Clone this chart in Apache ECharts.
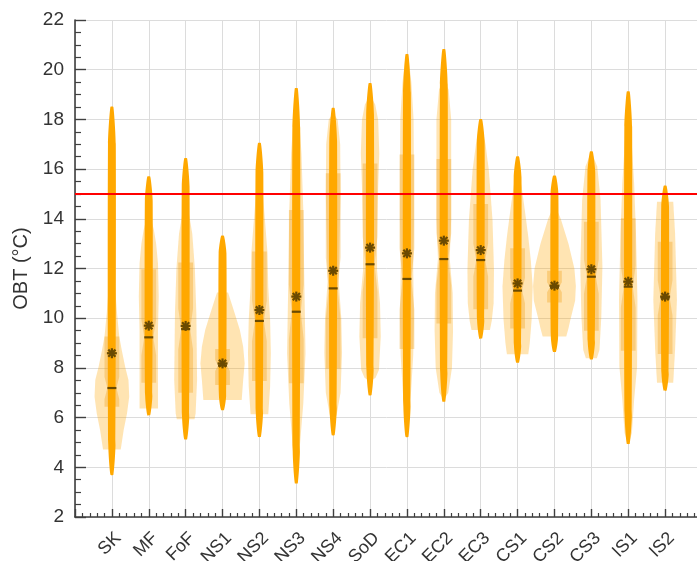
<!DOCTYPE html>
<html>
<head>
<meta charset="utf-8">
<script src="https://cdn.jsdelivr.net/npm/echarts@6/dist/echarts.min.js"></script>
<style>
html,body{margin:0;padding:0;background:#fff;}
#chart{width:697px;height:561px;}
</style>
</head>
<body>
<div id="chart"></div>
<script>
// ---- data ----
const categories = ['SK','MF','FoF','NS1','NS2','NS3','NS4','SoD','EC1','EC2','EC3','CS1','CS2','CS3','IS1','IS2'];
const means   = [8.59, 9.70, 9.69, 8.18, 10.33, 10.87, 11.91, 12.84, 12.61, 13.12, 12.74, 11.40, 11.31, 11.97, 11.47, 10.87];
const medians = [7.19, 9.23, 9.56, 8.10, 9.89, 10.26, 11.20, 12.17, 11.58, 12.38, 12.34, 11.11, 11.25, 11.67, 11.27, 10.82];
const q1      = [6.44, 7.40, 7.00, 7.31, 7.47, 7.38, 7.98, 9.19, 8.76, 9.79, 10.36, 9.59, 10.63, 9.50, 8.69, 8.56];
const q3      = [9.26, 11.97, 12.24, 8.76, 12.68, 14.35, 15.83, 16.23, 16.59, 16.41, 14.60, 12.81, 11.91, 13.88, 14.02, 13.08];
const mins    = [3.70, 6.10, 5.13, 6.31, 5.23, 3.36, 5.30, 6.91, 5.23, 6.65, 9.19, 8.22, 8.65, 8.35, 4.95, 7.09];
const maxs    = [18.50, 15.70, 16.43, 13.31, 17.04, 19.25, 18.45, 19.45, 20.62, 20.82, 18.00, 16.50, 15.73, 16.70, 19.12, 15.32];
const threshold = 15;
// violin density profiles: [value, half-width in category units]
const violinProfiles = [
  [[4.72,0.24],[5.5,0.32],[6.17,0.41],[6.84,0.47],[7.51,0.45],[8.05,0.36],[8.7,0.27],[9.26,0.2],[10.2,0.14],[11.2,0.09],[12.5,0.04],[13.5,0]],
  [[6.37,0.25],[8.18,0.25],[9.53,0.25],[10.87,0.27],[12.2,0.25],[13.0,0.2],[13.55,0.14],[13.95,0.07],[14.15,0]],
  [[5.93,0.24],[6.17,0.27],[7.51,0.31],[10.2,0.29],[12.0,0.25],[13.4,0.18],[14.2,0.09],[14.76,0]],
  [[6.71,0.52],[7.51,0.56],[8.18,0.6],[8.85,0.56],[9.53,0.47],[10.2,0.33],[11.03,0.15]],
  [[6.13,0.24],[7.25,0.29],[8.59,0.31],[9.93,0.29],[11.27,0.24],[12.61,0.22],[13.95,0.15],[15.3,0.08],[16.5,0]],
  [[3.62,0.02],[4.56,0.08],[6.57,0.19],[8.59,0.25],[11.27,0.22],[14.35,0.19],[16.64,0.14],[18.65,0.05],[19.1,0]],
  [[5.6,0],[6.17,0.1],[7.0,0.2],[8.6,0.24],[10.0,0.22],[11.5,0.15],[13.0,0.17],[15.0,0.2],[17.0,0.19],[18.0,0.12],[18.25,0]],
  [[7.45,0],[7.6,0.15],[7.92,0.24],[9.26,0.29],[10.6,0.27],[11.94,0.19],[13.28,0.19],[15.3,0.22],[16.64,0.25],[17.98,0.22],[18.6,0.14],[18.98,0]],
  [[5.23,0],[6.0,0.06],[7.0,0.11],[8.5,0.17],[10.0,0.19],[12.0,0.17],[14.0,0.19],[16.0,0.19],[18.0,0.18],[19.5,0.12],[20.4,0.05],[20.66,0]],
  [[6.71,0],[7.0,0.12],[8.0,0.22],[9.5,0.25],[11.0,0.24],[12.4,0.16],[14.0,0.2],[16.0,0.2],[18.0,0.2],[19.2,0.13],[19.59,0]],
  [[9.53,0.25],[9.9,0.3],[10.6,0.35],[11.94,0.36],[13.95,0.32],[15.96,0.22],[17.0,0.13],[17.98,0]],
  [[8.55,0.29],[9.0,0.33],[9.93,0.38],[11.27,0.41],[12.3,0.36],[13.28,0.29],[14.3,0.2],[15.29,0.11],[16.37,0]],
  [[9.26,0.32],[9.6,0.38],[9.93,0.43],[10.7,0.56],[11.3,0.58],[12.0,0.54],[13.0,0.38],[14.0,0.17],[14.6,0]],
  [[8.39,0.15],[8.72,0.22],[10.06,0.27],[12.07,0.3],[14.76,0.25],[16.1,0.16],[16.7,0]],
  [[4.9,0],[5.38,0.1],[6.72,0.16],[8.06,0.24],[10.74,0.25],[13.42,0.21],[15.43,0.16],[17.4,0.08],[18.8,0]],
  [[7.4,0.22],[8.73,0.27],[10.74,0.32],[13.42,0.27],[14.69,0.22]]
];

// ---- chart ----
const chart = echarts.init(document.getElementById('chart'), null, {renderer:'canvas'});
const dark = '#6B4A00';
const font = 'Liberation Sans, Arial, Helvetica, sans-serif';

function renderItem(params, api) {
  const i = params.dataIndex;
  const x = api.value(0);
  const unitPx = api.size([1, 0])[0];
  const children = [];
  // violin
  const prof = violinProfiles[i];
  const left = [], right = [];
  prof.forEach(p => {
    const c = api.coord([x, p[0]]);
    left.push([c[0] - p[1] * unitPx, c[1]]);
    right.push([c[0] + p[1] * unitPx, c[1]]);
  });
  children.push({type:'polygon', shape:{points: left.concat(right.reverse())},
    style:{fill:'rgba(255,165,0,0.30)'}});
  // notched box
  const hb = 0.2 * unitPx, hn = 4.5;
  const med = medians[i];
  const d = 0.157 * (q3[i] - q1[i]);
  const dUp = Math.min(d, q3[i] - med), dDn = Math.min(d, med - q1[i]);
  const cx = api.coord([x, med])[0];
  const Y = v => api.coord([x, v])[1];
  const boxPts = [
    [cx-hb, Y(q1[i])], [cx-hb, Y(med-dDn)], [cx-hn, Y(med)], [cx-hb, Y(med+dUp)], [cx-hb, Y(q3[i])],
    [cx+hb, Y(q3[i])], [cx+hb, Y(med+dUp)], [cx+hn, Y(med)], [cx+hb, Y(med-dDn)], [cx+hb, Y(q1[i])]
  ];
  children.push({type:'polygon', shape:{points: boxPts}, style:{fill:'rgba(240,155,10,0.32)'}});
  // column of observations (min..max)
  const yMin = Y(mins[i]), yMax = Y(maxs[i]);
  const span = yMin - yMax;
  const colPts = [
    [cx-1.5, yMin], [cx-3.6, yMin - 0.08*span], [cx-3.9, yMax + 0.1*span], [cx-1.5, yMax],
    [cx+1.5, yMax], [cx+3.9, yMax + 0.1*span], [cx+3.6, yMin - 0.08*span], [cx+1.5, yMin]
  ];
  children.push({type:'polygon', shape:{points: colPts, smooth:0.2}, style:{fill:'#FFA800'}});
  // median
  const ym = Y(med);
  children.push({type:'rect', shape:{x:cx-4.5, y:ym-1.1, width:9, height:2.2}, style:{fill:dark}});
  // mean asterisk
  const ya = Y(means[i]);
  const r = 5;
  const segs = [[0,r],[r,0],[r*0.72,r*0.72],[r*0.72,-r*0.72]];
  segs.forEach(s => {
    children.push({type:'line', shape:{x1:cx-s[0], y1:ya-s[1], x2:cx+s[0], y2:ya+s[1]},
      style:{stroke:dark, lineWidth:2.2}});
  });
  return {type:'group', children};
}

const axisColor = '#3f3f3f';
const option = {
  animation: false,
  backgroundColor: '#ffffff',
  grid: {left: 75, top: 20, width: 627, height: 497, containLabel: false, outerBoundsMode: 'none'},
  xAxis: {
    type: 'value', min: 0, max: 17, interval: 1,
    axisLine: {show: true, onZero: false, lineStyle: {color: axisColor, width: 1.6}},
    axisTick: {show: true, inside: true, length: 8, lineStyle: {color: axisColor, width: 1.4}},
    minorTick: {show: true, splitNumber: 5, length: 4, lineStyle: {color: axisColor, width: 1.2}},
    splitLine: {show: true, lineStyle: {color: '#dcdcdc', width: 1}},
    axisLabel: {
      formatter: v => categories[v - 1] || '',
      rotate: 45, fontSize: 18, color: '#333', margin: 12,
      verticalAlign: 'top', fontFamily: font
    }
  },
  yAxis: {
    type: 'value', min: 2, max: 22, interval: 2,
    name: 'OBT (°C)', nameLocation: 'middle', nameGap: 36, nameRotate: 90,
    nameTextStyle: {fontSize: 20, color: '#333', fontFamily: font},
    axisLine: {show: true, onZero: false, lineStyle: {color: axisColor, width: 1.6}},
    axisTick: {show: true, inside: true, length: 11, lineStyle: {color: axisColor, width: 1.4}},
    minorTick: {show: true, splitNumber: 4, length: 6, lineStyle: {color: axisColor, width: 1.2}},
    splitLine: {show: true, lineStyle: {color: '#dcdcdc', width: 1}},
    axisLabel: {fontSize: 19, color: '#333', margin: 11, fontFamily: font}
  },
  series: [
    {
      type: 'custom',
      renderItem: renderItem,
      data: categories.map((c, i) => [i + 1]),
      z: 2
    },
    {
      type: 'line', data: [], z: 5,
      markLine: {
        silent: true, symbol: 'none', animation: false,
        label: {show: false},
        lineStyle: {color: '#ff0000', width: 2, type: 'solid'},
        data: [{yAxis: threshold}]
      }
    }
  ]
};
chart.setOption(option);
</script>
</body>
</html>
